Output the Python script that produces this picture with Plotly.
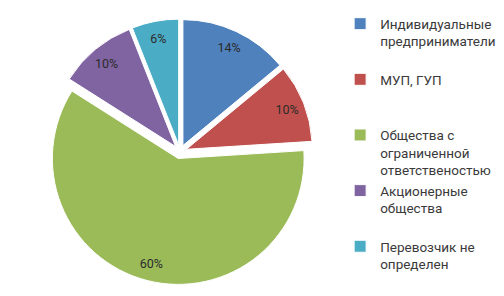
import plotly.graph_objects as go

labels = ["Индивидуальные<br>предприниматели", "МУП, ГУП", "Общества с<br>ограниченной<br>ответственостью",
          "Акционерные<br>общества", "Перевозчик не<br>определен"]
values = [14, 10, 60, 10, 6]
colors = ["#4F81BD", "#C0504D", "#9BBB59", "#8064A2", "#4BACC6"]

# pad legend labels to equal line count for even spacing
maxlines = max(l.count("<br>") + 1 for l in labels)
leg_labels = [l + "<br> " * (maxlines - (l.count("<br>") + 1)) for l in labels]

dom = dict(x=[0.0694, 0.613], y=[0.0676, 0.993])
pull = [0.055] * 5

fig = go.Figure()
fig.add_trace(go.Pie(
    labels=leg_labels, values=values, sort=False, direction="clockwise", rotation=0,
    marker=dict(colors=colors, line=dict(color="white", width=1)),
    pull=pull, textinfo="none", domain=dom, hoverinfo="label+percent",
))
fig.add_trace(go.Pie(
    labels=leg_labels, values=values, sort=False, direction="clockwise", rotation=0,
    marker=dict(colors=["rgba(0,0,0,0)"] * 5, line=dict(width=0)),
    pull=pull, hole=0.72, showlegend=False, hoverinfo="skip",
    texttemplate="%{percent:.0%}",
    textposition="inside", insidetextorientation="horizontal",
    textfont=dict(family="Roboto", size=12.5, color="#2b2b2b"),
    domain=dom,
))
fig.update_layout(
    width=504, height=296, margin=dict(l=0, r=0, t=0, b=0),
    paper_bgcolor="white", plot_bgcolor="white",
    legend=dict(x=0.659, y=1.03, xanchor="left", yanchor="top", valign="top",
                font=dict(family="Roboto", size=13.5, color="#3a3a3a"),
                itemwidth=30, tracegroupgap=0, maxheight=1),
)
fig.write_html("out.html")
